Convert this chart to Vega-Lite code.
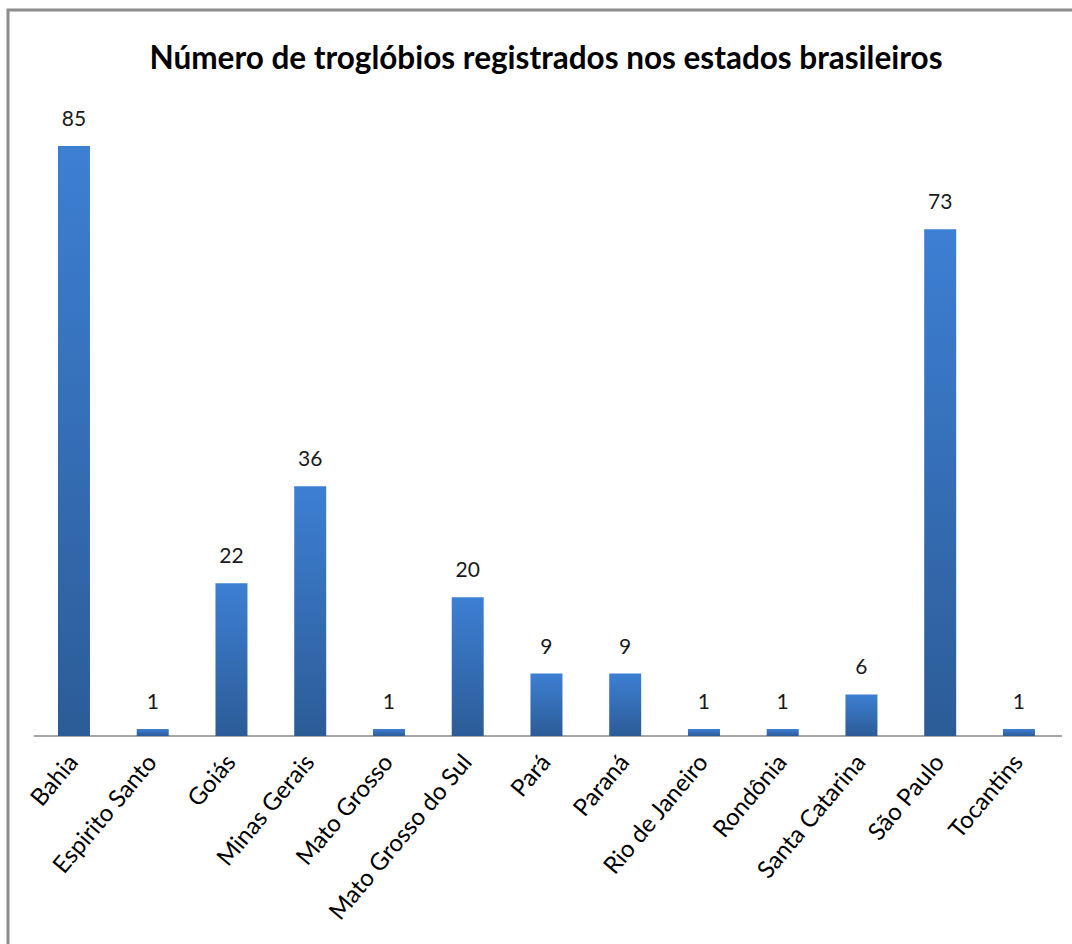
{
  "$schema": "https://vega.github.io/schema/vega-lite/v6.json",
  "width": 1072,
  "height": 944,
  "autosize": {"type": "fit", "contains": "padding"},
  "padding": {"left": 8, "top": 10, "right": -4, "bottom": -4},
  "background": "white",
  "config": {
    "view": {"stroke": "#8c8c8c", "strokeWidth": 3},
    "font": "Lato"
  },
  "title": {
    "text": "Número de troglóbios registrados nos estados brasileiros",
    "font": "Lato",
    "fontSize": 31.5,
    "fontWeight": "bold",
    "color": "#000000",
    "anchor": "middle",
    "frame": "group",
    "offset": -65,
    "dx": 4
  },
  "data": {
    "values": [
      {"estado": "Bahia", "n": 85},
      {"estado": "Espirito Santo", "n": 1},
      {"estado": "Goiás", "n": 22},
      {"estado": "Minas Gerais", "n": 36},
      {"estado": "Mato Grosso", "n": 1},
      {"estado": "Mato Grosso do Sul", "n": 20},
      {"estado": "Pará", "n": 9},
      {"estado": "Paraná", "n": 9},
      {"estado": "Rio de Janeiro", "n": 1},
      {"estado": "Rondônia", "n": 1},
      {"estado": "Santa Catarina", "n": 6},
      {"estado": "São Paulo", "n": 73},
      {"estado": "Tocantins", "n": 1}
    ]
  },
  "encoding": {
    "x": {
      "field": "estado",
      "type": "nominal",
      "sort": null,
      "scale": {
        "domain": ["Bahia", "Espirito Santo", "Goiás", "Minas Gerais", "Mato Grosso", "Mato Grosso do Sul", "Pará", "Paraná", "Rio de Janeiro", "Rondônia", "Santa Catarina", "São Paulo", "Tocantins"],
        "paddingInner": 0.5937, "paddingOuter": 0.578, "align": 0.549
      },
      "axis": {
        "title": null,
        "orient": "bottom",
        "offset": -212,
        "domain": false,
        "ticks": false,
        "labelAngle": -50,
        "labelAlign": "right",
        "labelBaseline": "middle",
        "labelPadding": 22,
        "labelFont": "Lato",
        "labelFontSize": 24,
        "labelColor": "#000000",
        "labelOverlap": false,
        "labelLimit": 0
      }
    },
    "y": {
      "field": "n",
      "type": "quantitative",
      "scale": {"domain": [-30.54, 104.6], "nice": false, "zero": false},
      "axis": null
    }
  },
  "layer": [
    {
      "mark": {"type": "rule", "color": "#a6a6a6", "strokeWidth": 2, "xOffset": -40, "x2Offset": 43},
      "encoding": {
        "x": {"datum": "Bahia", "type": "nominal"},
        "x2": {"datum": "Tocantins"},
        "y": {"datum": 0, "type": "quantitative"}
      }
    },
    {
      "mark": {
        "type": "bar",
        "color": {
          "gradient": "linear",
          "x1": 0, "y1": 0, "x2": 0, "y2": 1,
          "stops": [
            {"offset": 0, "color": "#3d7fd3"},
            {"offset": 1, "color": "#2c5c97"}
          ]
        }
      }
    },
    {
      "mark": {"type": "text", "baseline": "alphabetic", "dy": -20, "font": "Lato", "fontSize": 21, "color": "#1a1a1a"},
      "encoding": {"text": {"field": "n", "type": "quantitative"}}
    }
  ]
}
